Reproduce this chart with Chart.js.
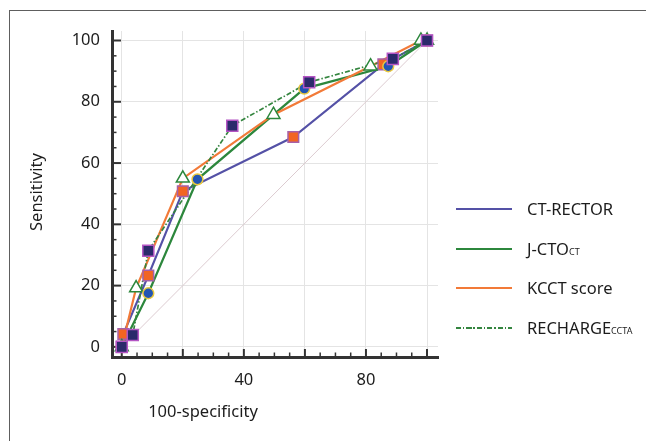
<!DOCTYPE html>
<html>
<head>
<meta charset="utf-8">
<script src="https://cdn.jsdelivr.net/npm/chart.js@4.4.0/dist/chart.umd.min.js"></script>
<style>
    body { margin: 0; background: #fff; overflow: hidden; }
    #wrap { position: relative; width: 646px; height: 441px; overflow: hidden; }
    #frame { position: absolute; left: 9px; top: 10px; width: 700px; height: 500px;
             border-left: 1px solid #5e5e5e; border-top: 1px solid #5e5e5e; }
    #myChart { position: absolute; left: 0; top: 0; }
    .legLine { position: absolute; left: 456px; width: 56px; height: 2px; }
    .legText { position: absolute; left: 527px; font-family: "Noto Sans"; font-size: 16.5px;
               line-height: 20px; color: #1c1c1c; white-space: nowrap; }
    .legText small { font-size: 9px; }
</style>
</head>
<body>
<div id="wrap">
    <div id="frame"></div>
    <canvas id="myChart" width="646" height="441"></canvas>
    <div id="legend"></div>
</div>
<script>
// valores (100-especificidade, sensibilidade)
let ctRectorX = [0, 0.5, 8.7, 20, 56.2, 85.7, 100]
let ctRectorY = [0, 4.2, 23.3, 50.8, 68.5, 92.2, 100]

let jctoX = [0, 8.7, 24.8, 59.8, 87.3, 100]
let jctoY = [0, 17.5, 54.7, 84.3, 91.6, 100]

let kcctX = [0, 4.7, 20, 49.7, 81.5, 98, 100]
let kcctY = [0, 19.2, 55, 75.8, 91.6, 100, 100]

let rechargeX = [0, 3.6, 8.7, 36.2, 61.4, 88.8, 100]
let rechargeY = [0, 3.9, 31.4, 72.2, 86.4, 94, 100]

let diagonalX = [0, 100]
let diagonalY = [0, 100]

let xTicks = [0, 20, 40, 60, 80, 100]
let xTickLabels = [0, 40, 80]
let yTicks = [0, 20, 40, 60, 80, 100]

let legendNames = ["CT-RECTOR", "J-CTO", "KCCT score", "RECHARGE"]
let legendSubs = ["", "CT", "", "CCTA"]

let corAzul = "#5451a6"
let corVerde = "#2c873c"
let corLaranja = "#f27a38"
let corVerdeTraco = "#34853f"

function pontos(xs, ys) {
    let arr = []
    for (let i = 0; i < xs.length; i++) {
        arr.push({ x: xs[i], y: ys[i] })
    }
    return arr
}

function linha(label, xs, ys, cor, largura, dash, ordem) {
    return {
        label: label,
        data: pontos(xs, ys),
        borderColor: cor,
        borderWidth: largura,
        borderDash: dash,
        pointRadius: 0,
        showLine: true,
        fill: false,
        tension: 0,
        clip: false,
        order: ordem,
    }
}

function marcador(label, xs, ys, estilo, raio, fundo, borda, ordem) {
    return {
        label: label,
        data: pontos(xs, ys),
        showLine: false,
        pointStyle: estilo,
        pointRadius: raio,
        pointBackgroundColor: fundo,
        pointBorderColor: borda,
        pointBorderWidth: 1.5,
        clip: false,
        order: ordem,
    }
}

// marcas de escala maiores e menores, desenhadas a partir das escalas
const ticksPlugin = {
    id: "ticksPlugin",
    beforeDatasetsDraw(chart) {
        const c = chart.ctx
        const xs = chart.scales.x
        const ys = chart.scales.y
        const area = chart.chartArea
        c.save()
        c.strokeStyle = "#333"
        for (let v = 0; v <= 100; v += 5) {
            let maior = v % 20 == 0
            c.lineWidth = maior ? 2 : 1.5
            let px = xs.getPixelForValue(v)
            c.beginPath()
            c.moveTo(px, area.bottom)
            c.lineTo(px, area.bottom - (maior ? 8 : 4.5))
            c.stroke()
            let py = ys.getPixelForValue(v)
            c.beginPath()
            c.moveTo(area.left, py)
            c.lineTo(area.left + (maior ? 9 : 4.5), py)
            c.stroke()
        }
        c.restore()
    },
    afterDraw(chart) {
        const c = chart.ctx
        c.save()
        c.font = '16.5px "Noto Sans"'
        c.fillStyle = "#1c1c1c"
        c.textAlign = "center"
        c.textBaseline = "middle"
        c.fillText("100-specificity", 203, 412)
        c.translate(37, 192)
        c.rotate(-Math.PI / 2)
        c.fillText("Sensitivity", 0, 0)
        c.restore()
    },
}

const ctx = document.getElementById("myChart").getContext("2d")
let myChart = new Chart(ctx, {
    type: "scatter",
    data: {
        datasets: [
            marcador("RECHARGE pts", rechargeX, rechargeY, "rect", 7.8, "#2b2a6b", "#b455c4", 0),
            marcador("J-CTO pts", jctoX, jctoY, "circle", 5.4, "#2255b3", "#e9c83e", 1),
            marcador("KCCT pts", kcctX, kcctY, "triangle", 7.5, "#ffffff", corVerde, 2),
            marcador("CT-RECTOR pts", ctRectorX, ctRectorY, "rect", 7.5, "#f26522", "#a760a8", 3),
            linha("RECHARGE", rechargeX, rechargeY, corVerdeTraco, 1.7, [5, 2, 1.5, 2], 10),
            linha("KCCT score", kcctX, kcctY, corLaranja, 2.2, [], 11),
            linha("J-CTO", jctoX, jctoY, corVerde, 2.2, [], 12),
            linha("CT-RECTOR", ctRectorX, ctRectorY, corAzul, 2.1, [], 13),
            linha("diagonal", diagonalX, diagonalY, "#dccbd0", 1, [], 14),
        ],
    },
    options: {
        responsive: false,
        animation: false,
        events: [],
        layout: { padding: { left: 72, right: 208, top: 31, bottom: 54 } },
        plugins: { legend: { display: false }, tooltip: { enabled: false } },
        scales: {
            x: {
                type: "linear",
                min: -3.2,
                max: 103.6,
                afterBuildTicks: (s) => { s.ticks = xTicks.map((v) => ({ value: v })) },
                afterFit: (s) => { s.height = 30 },
                ticks: {
                    autoSkip: false,
                    maxRotation: 0,
                    padding: 13,
                    color: "#1c1c1c",
                    font: { family: "Noto Sans", size: 16.5 },
                    callback: (v) => (xTickLabels.includes(v) ? String(v) : ""),
                },
                grid: { color: "#e4e4e4", lineWidth: 1, drawTicks: false },
                border: { color: "#333", width: 3 },
            },
            y: {
                type: "linear",
                min: -3.3,
                max: 103.1,
                afterBuildTicks: (s) => { s.ticks = yTicks.map((v) => ({ value: v })) },
                afterFit: (s) => { s.width = 40 },
                ticks: {
                    autoSkip: false,
                    padding: 12,
                    color: "#1c1c1c",
                    font: { family: "Noto Sans", size: 16.5 },
                },
                grid: { color: "#e4e4e4", lineWidth: 1, drawTicks: false },
                border: { color: "#333", width: 3 },
            },
        },
    },
    plugins: [ticksPlugin],
})

// legenda em HTML (para os subscritos)
let legendColors = [corAzul, corVerde, corLaranja, corVerdeTraco]
let legendRows = [209, 249, 288, 328]
let legend = document.getElementById("legend")
for (let i = 0; i < legendNames.length; i++) {
    let l = document.createElement("div")
    l.className = "legLine"
    l.style.top = legendRows[i] - 1 + "px"
    if (i == 3) {
        l.style.background = "repeating-linear-gradient(to right, " + legendColors[i] + " 0 5px, transparent 5px 7px, " +
            legendColors[i] + " 7px 8.5px, transparent 8.5px 10.5px)"
        l.style.height = "1.7px"
    } else {
        l.style.background = legendColors[i]
    }
    legend.appendChild(l)

    let t = document.createElement("div")
    t.className = "legText"
    t.style.top = legendRows[i] - 10 + "px"
    t.innerHTML = legendNames[i] + (legendSubs[i] ? "<small>" + legendSubs[i] + "</small>" : "")
    legend.appendChild(t)
}
</script>
</body>
</html>
